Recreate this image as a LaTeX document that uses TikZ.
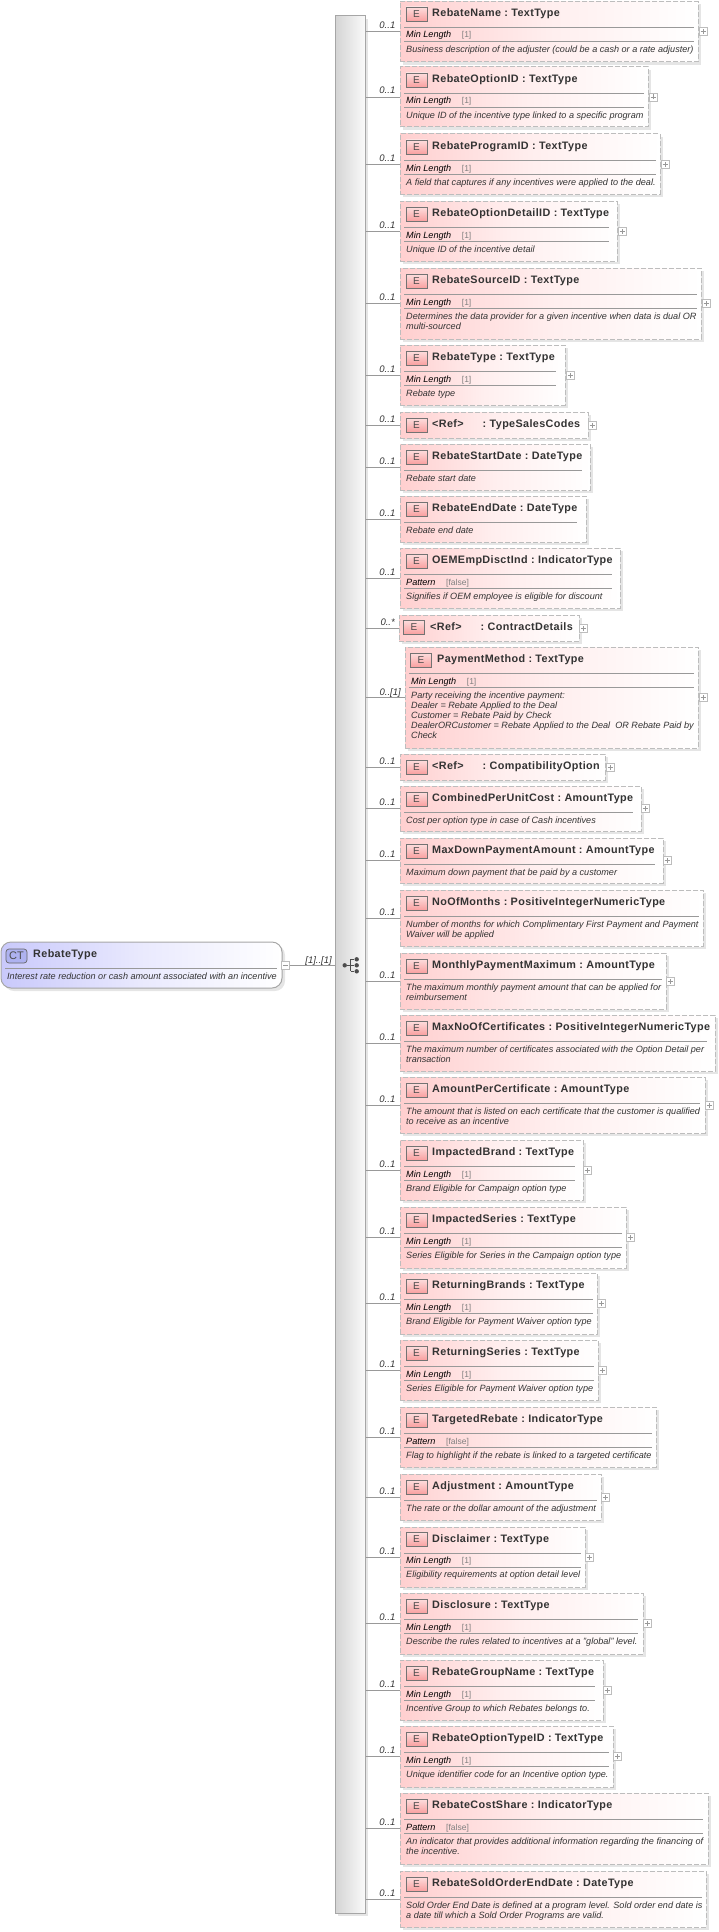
\documentclass[tikz,border=0pt]{standalone}
\usepackage{fontspec}
\setmainfont{Liberation Sans}
\newfontfamily\titlefont[LetterSpace=3.5]{Liberation Sans Bold}
\usetikzlibrary{shadows}
\definecolor{pinkbg}{HTML}{FFCFCF}
\definecolor{bluebg}{HTML}{C9C9FB}
\definecolor{iconred}{HTML}{F9A0A0}
\definecolor{iconblue}{HTML}{AEB2F0}
\definecolor{edgegray}{HTML}{BDBDBD}
\definecolor{textgray}{HTML}{333333}

\begin{document}
\begin{tikzpicture}[x=1pt,y=-1pt]
    \tikzstyle{elem}=[draw=edgegray,line width=1pt,dash pattern=on 5pt off 2pt,inner sep=0pt,left color=pinkbg,right color=white,middle color=pinkbg!35,drop shadow={shadow xshift=3pt,shadow yshift=-3pt,fill=black!10,opacity=1}]
    \tikzstyle{icon}=[draw=black!55,line width=0.7pt,top color=iconred!35,bottom color=iconred,text=black!70,minimum width=21pt,minimum height=14pt,inner sep=0pt,font=\fontsize{10}{10}\selectfont]
    \tikzstyle{title}=[anchor=base west,inner sep=0pt,text=textgray,font=\fontsize{10.8}{12}\titlefont]
    \tikzstyle{facet}=[anchor=base west,inner sep=0pt,text=black,font=\fontsize{9.1}{10}\selectfont\itshape]
    \tikzstyle{facetval}=[anchor=base west,inner sep=0pt,text=black!50,font=\fontsize{8.5}{10}\selectfont]
    \tikzstyle{desc}=[anchor=north west,inner sep=0pt,align=left,text height=7pt,text=textgray,font=\fontsize{9.1}{10}\selectfont\itshape]
    \tikzstyle{mult}=[anchor=base east,inner sep=0pt,text=textgray,font=\fontsize{9.5}{10}\selectfont\itshape]
    \tikzstyle{plus}=[draw=edgegray,fill=white,minimum size=8pt,inner sep=0pt,path picture={\draw[black!40,line width=0.5pt] ([xshift=-2.5pt]path picture bounding box.center) -- ([xshift=2.5pt]path picture bounding box.center); \draw[black!40,line width=0.5pt] ([yshift=-2.5pt]path picture bounding box.center) -- ([yshift=2.5pt]path picture bounding box.center);}]
    \tikzstyle{link}=[draw=black!40,line width=0.8pt]
    \tikzstyle{rule}=[draw=black!40,line width=0.8pt]
    \tikzstyle{dot}=[circle,fill=black!70,inner sep=0pt,minimum size=4.4pt]

    \useasboundingbox (0,0) rectangle (719,1932);

    % complex type on the left
    \node (ct) at (141.5,965) [draw=black!35,line width=1pt,rounded corners=10pt,left color=bluebg,right color=white,middle color=bluebg!40,minimum width=281pt,minimum height=46pt,inner sep=0pt,drop shadow={shadow xshift=3pt,shadow yshift=-3pt,fill=black!10,opacity=1}] {};
    \node (cticon) at (16.5,956) [draw=black!60,line width=0.7pt,rounded corners=3pt,fill=iconblue,text=black!70,minimum width=21pt,minimum height=14pt,inner sep=0pt,font=\fontsize{11}{11}\selectfont] {CT};
    \node (cttitle) at (33,957) [title] {RebateType};
    \draw [rule] (5,968) -- (277,968);
    \node (ctdesc) at (7,972) [desc] {Interest rate reduction or cash amount associated with an incentive};
    \node (ctminus) at (285.5,965.5) [draw=edgegray,fill=white,minimum size=8pt,inner sep=0pt] {};
    \draw [black!40,line width=0.5pt] ([xshift=-2.5pt]ctminus.center) -- ([xshift=2.5pt]ctminus.center);
    \node (ctmult) at (332,963) [mult] {[1]..[1]};

    % sequence bar
    \node (bar) at (350,964.5) [draw=black!35,line width=1pt,left color=black!17,right color=black!2,minimum width=30pt,minimum height=1897pt,inner sep=0pt,drop shadow={shadow xshift=3pt,shadow yshift=-3pt,fill=black!10,opacity=1}] {};
    \draw [link] (ctminus.east) -- (bar.west |- ctminus);
    \node (s0) at (344.7,965.3) [dot] {};
    \node (s1) at (356.7,959.3) [dot] {};
    \node (s2) at (356.7,965.3) [dot] {};
    \node (s3) at (356.7,971.3) [dot] {};
    \coordinate (sj) at (350.7,965.3);
    \draw [black!70,line width=0.8pt] (s0) -- (s2);
    \draw [black!70,line width=0.8pt] (sj |- s1) -- (sj |- s3);
    \draw [black!70,line width=0.8pt] (sj |- s1) -- (s1);
    \draw [black!70,line width=0.8pt] (sj |- s3) -- (s3);

    % elements
    \node (e1) at (549,31.5) [elem,minimum width=298pt,minimum height=60.4pt] {};
    \node (i1) at (416.5,14) [icon] {E};
    \node (t1) at (432,16.7) [title] {RebateName\ :\ TextType};
    \draw [rule] (404,27.5) -- (694,27.5) (404,41.5) -- (694,41.5);
    \node (f1) at (406,38) [facet] {Min Length};
    \node (v1) at (461.7,38) [facetval] {[1]};
    \node (d1) at (406,45) [desc] {Business description of the adjuster (could be a cash or a rate adjuster)};
    \node (m1) at (395.5,28.5) [mult] {0..1};
    \node (p1) at (703,31.5) [plus] {};
    \draw [link] (bar.east |- e1.west) -- (e1.west);

    \node (e2) at (524,97) [elem,minimum width=248pt,minimum height=60pt] {};
    \node (i2) at (416.5,80) [icon] {E};
    \node (t2) at (432,82.7) [title] {RebateOptionID\ :\ TextType};
    \draw [rule] (404,93.5) -- (644,93.5) (404,107.5) -- (644,107.5);
    \node (f2) at (406,104) [facet] {Min Length};
    \node (v2) at (461.7,104) [facetval] {[1]};
    \node (d2) at (406,111) [desc] {Unique ID of the incentive type linked to a specific program};
    \node (m2) at (395.5,94) [mult] {0..1};
    \node (p2) at (653,97) [plus] {};
    \draw [link] (bar.east |- e2.west) -- (e2.west);

    \node (e3) at (530,164) [elem,minimum width=260pt,minimum height=60pt] {};
    \node (i3) at (416.5,147) [icon] {E};
    \node (t3) at (432,149.7) [title] {RebateProgramID\ :\ TextType};
    \draw [rule] (404,160.5) -- (656,160.5) (404,174.5) -- (656,174.5);
    \node (f3) at (406,171) [facet] {Min Length};
    \node (v3) at (461.7,171) [facetval] {[1]};
    \node (d3) at (406,178) [desc] {A field that captures if any incentives were applied to the deal.};
    \node (m3) at (395.5,161) [mult] {0..1};
    \node (p3) at (665,164) [plus] {};
    \draw [link] (bar.east |- e3.west) -- (e3.west);

    \node (e4) at (508.5,231) [elem,minimum width=217pt,minimum height=60pt] {};
    \node (i4) at (416.5,214) [icon] {E};
    \node (t4) at (432,216.7) [title] {RebateOptionDetailID\ :\ TextType};
    \draw [rule] (404,227.5) -- (609,227.5) (404,241.5) -- (609,241.5);
    \node (f4) at (406,238) [facet] {Min Length};
    \node (v4) at (461.7,238) [facetval] {[1]};
    \node (d4) at (406,245) [desc] {Unique ID of the incentive detail};
    \node (m4) at (395.5,228) [mult] {0..1};
    \node (p4) at (622,231) [plus] {};
    \draw [link] (bar.east |- e4.west) -- (e4.west);

    \node (e5) at (550.5,303.5) [elem,minimum width=301pt,minimum height=71pt] {};
    \node (i5) at (416.5,281) [icon] {E};
    \node (t5) at (432,283.7) [title] {RebateSourceID\ :\ TextType};
    \draw [rule] (404,294.5) -- (697,294.5) (404,308.5) -- (697,308.5);
    \node (f5) at (406,305) [facet] {Min Length};
    \node (v5) at (461.7,305) [facetval] {[1]};
    \node (d5) at (406,322) [desc] {Determines the data provider for a given incentive when data is dual OR\\multi-sourced};
    \node (m5) at (395.5,300.5) [mult] {0..1};
    \node (p5) at (706,303.5) [plus] {};
    \draw [link] (bar.east |- e5.west) -- (e5.west);

    \node (e6) at (482.5,375) [elem,minimum width=165pt,minimum height=60pt] {};
    \node (i6) at (416.5,358) [icon] {E};
    \node (t6) at (432,360.7) [title] {RebateType\ :\ TextType};
    \draw [rule] (404,371.5) -- (556,371.5) (404,385.5) -- (556,385.5);
    \node (f6) at (406,382) [facet] {Min Length};
    \node (v6) at (461.7,382) [facetval] {[1]};
    \node (d6) at (406,389) [desc] {Rebate type};
    \node (m6) at (395.5,372) [mult] {0..1};
    \node (p6) at (570,375) [plus] {};
    \draw [link] (bar.east |- e6.west) -- (e6.west);

    \node (e7) at (494,425) [elem,minimum width=188pt,minimum height=26pt] {};
    \node (i7) at (416.5,425) [icon] {E};
    \node (t7) at (432,427) [title] {<Ref>\hspace{19pt}:\ TypeSalesCodes};
    \node (m7) at (395.5,422) [mult] {0..1};
    \node (p7) at (592,425) [plus] {};
    \draw [link] (bar.east |- e7.west) -- (e7.west);

    \node (e8) at (495,467) [elem,minimum width=190pt,minimum height=46pt] {};
    \node (i8) at (416.5,457) [icon] {E};
    \node (t8) at (432,459.7) [title] {RebateStartDate\ :\ DateType};
    \draw [rule] (404,470.5) -- (582,470.5);
    \node (d8) at (406,474) [desc] {Rebate start date};
    \node (m8) at (395.5,464) [mult] {0..1};
    \draw [link] (bar.east |- e8.west) -- (e8.west);

    \node (e9) at (493,519) [elem,minimum width=186pt,minimum height=46pt] {};
    \node (i9) at (416.5,509) [icon] {E};
    \node (t9) at (432,511.7) [title] {RebateEndDate\ :\ DateType};
    \draw [rule] (404,522.5) -- (577,522.5);
    \node (d9) at (406,526) [desc] {Rebate end date};
    \node (m9) at (395.5,516) [mult] {0..1};
    \draw [link] (bar.east |- e9.west) -- (e9.west);

    \node (e10) at (510,578) [elem,minimum width=220pt,minimum height=60pt] {};
    \node (i10) at (416.5,561) [icon] {E};
    \node (t10) at (432,563.7) [title] {OEMEmpDisctInd\ :\ IndicatorType};
    \draw [rule] (404,574.5) -- (612,574.5) (404,588.5) -- (612,588.5);
    \node (f10) at (406,585) [facet] {Pattern};
    \node (v10) at (446,585) [facetval] {[false]};
    \node (d10) at (406,592) [desc] {Signifies if OEM employee is eligible for discount};
    \node (m10) at (395.5,575) [mult] {0..1};
    \draw [link] (bar.east |- e10.west) -- (e10.west);

    \node (e11) at (489,628) [elem,minimum width=180pt,minimum height=26pt] {};
    \node (i11) at (414,627) [icon] {E};
    \node (t11) at (430,630) [title] {<Ref>\hspace{19pt}:\ ContractDetails};
    \node (m11) at (395,625) [mult] {0..*};
    \node (p11) at (583.5,628) [plus] {};
    \draw [link] (bar.east |- e11.west) -- (e11.west);

    \node (e12) at (551.5,697.5) [elem,minimum width=293pt,minimum height=101pt] {};
    \node (i12) at (421,660) [icon] {E};
    \node (t12) at (437,662) [title] {PaymentMethod\ :\ TextType};
    \draw [rule] (409,673) -- (694,673) (409,687.3) -- (694,687.3);
    \node (f12) at (411,684) [facet] {Min Length};
    \node (v12) at (466.7,684) [facetval] {[1]};
    \node (d12) at (411,731.3) [desc] {Party receiving the incentive payment:\\Dealer = Rebate Applied to the Deal\\Customer = Rebate Paid by Check\\DealerORCustomer = Rebate Applied to the Deal\ \ OR Rebate Paid by\\Check};
    \node (m12) at (401,695) [mult] {0..[1]};
    \node (p12) at (703,697.5) [plus] {};
    \draw [link] (bar.east |- e12.west) -- (e12.west);

    \node (e13) at (502.5,767) [elem,minimum width=205pt,minimum height=26pt] {};
    \node (i13) at (416.5,767) [icon] {E};
    \node (t13) at (432,769) [title] {<Ref>\hspace{19pt}:\ CompatibilityOption};
    \node (m13) at (395.5,764) [mult] {0..1};
    \node (p13) at (610,767) [plus] {};
    \draw [link] (bar.east |- e13.west) -- (e13.west);

    \node (e14) at (520.5,808.5) [elem,minimum width=241pt,minimum height=45pt] {};
    \node (i14) at (416.5,799) [icon] {E};
    \node (t14) at (432,801.7) [title] {CombinedPerUnitCost\ :\ AmountType};
    \draw [rule] (404,812.5) -- (633,812.5);
    \node (d14) at (406,816) [desc] {Cost per option type in case of Cash incentives};
    \node (m14) at (395.5,805.5) [mult] {0..1};
    \node (p14) at (645,808.5) [plus] {};
    \draw [link] (bar.east |- e14.west) -- (e14.west);

    \node (e15) at (531.5,860.5) [elem,minimum width=263pt,minimum height=45pt] {};
    \node (i15) at (416.5,851) [icon] {E};
    \node (t15) at (432,853.7) [title] {MaxDownPaymentAmount\ :\ AmountType};
    \draw [rule] (404,864.5) -- (655,864.5);
    \node (d15) at (406,868) [desc] {Maximum down payment that be paid by a customer};
    \node (m15) at (395.5,857.5) [mult] {0..1};
    \node (p15) at (667,860.5) [plus] {};
    \draw [link] (bar.east |- e15.west) -- (e15.west);

    \node (e16) at (551.5,918) [elem,minimum width=303pt,minimum height=56pt] {};
    \node (i16) at (416.5,903) [icon] {E};
    \node (t16) at (432,905.7) [title] {NoOfMonths\ :\ PositiveIntegerNumericType};
    \draw [rule] (404,916.5) -- (699,916.5);
    \node (d16) at (406,930) [desc] {Number of months for which Complimentary First Payment and Payment\\Waiver will be applied};
    \node (m16) at (395.5,915) [mult] {0..1};
    \draw [link] (bar.east |- e16.west) -- (e16.west);

    \node (e17) at (533,981) [elem,minimum width=266pt,minimum height=56pt] {};
    \node (i17) at (416.5,966) [icon] {E};
    \node (t17) at (432,968.7) [title] {MonthlyPaymentMaximum\ :\ AmountType};
    \draw [rule] (404,979.5) -- (662,979.5);
    \node (d17) at (406,993) [desc] {The maximum monthly payment amount that can be applied for\\reimbursement};
    \node (m17) at (395.5,978) [mult] {0..1};
    \node (p17) at (670,981) [plus] {};
    \draw [link] (bar.east |- e17.west) -- (e17.west);

    \node (e18) at (557.5,1043) [elem,minimum width=315pt,minimum height=56pt] {};
    \node (i18) at (416.5,1028) [icon] {E};
    \node (t18) at (432,1030.7) [title] {MaxNoOfCertificates\ :\ PositiveIntegerNumericType};
    \draw [rule] (404,1041.5) -- (707,1041.5);
    \node (d18) at (406,1055) [desc] {The maximum number of certificates associated with the Option Detail per\\transaction};
    \node (m18) at (395.5,1040) [mult] {0..1};
    \draw [link] (bar.east |- e18.west) -- (e18.west);

    \node (e19) at (552.5,1105) [elem,minimum width=305pt,minimum height=56pt] {};
    \node (i19) at (416.5,1090) [icon] {E};
    \node (t19) at (432,1092.7) [title] {AmountPerCertificate\ :\ AmountType};
    \draw [rule] (404,1103.5) -- (700,1103.5);
    \node (d19) at (406,1117) [desc] {The amount that is listed on each certificate that the customer is qualified\\to receive as an incentive};
    \node (m19) at (395.5,1102) [mult] {0..1};
    \node (p19) at (709,1105) [plus] {};
    \draw [link] (bar.east |- e19.west) -- (e19.west);

    \node (e20) at (491.5,1170) [elem,minimum width=183pt,minimum height=60pt] {};
    \node (i20) at (416.5,1153) [icon] {E};
    \node (t20) at (432,1155.7) [title] {ImpactedBrand\ :\ TextType};
    \draw [rule] (404,1166.5) -- (575,1166.5) (404,1180.5) -- (575,1180.5);
    \node (f20) at (406,1177) [facet] {Min Length};
    \node (v20) at (461.7,1177) [facetval] {[1]};
    \node (d20) at (406,1184) [desc] {Brand Eligible for Campaign option type};
    \node (m20) at (395.5,1167) [mult] {0..1};
    \node (p20) at (587,1170) [plus] {};
    \draw [link] (bar.east |- e20.west) -- (e20.west);

    \node (e21) at (513,1237.5) [elem,minimum width=226pt,minimum height=61pt] {};
    \node (i21) at (416.5,1220) [icon] {E};
    \node (t21) at (432,1222.7) [title] {ImpactedSeries\ :\ TextType};
    \draw [rule] (404,1233.5) -- (622,1233.5) (404,1247.5) -- (622,1247.5);
    \node (f21) at (406,1244) [facet] {Min Length};
    \node (v21) at (461.7,1244) [facetval] {[1]};
    \node (d21) at (406,1251) [desc] {Series Eligible for Series in the Campaign option type};
    \node (m21) at (395.5,1234.5) [mult] {0..1};
    \node (p21) at (630,1237.5) [plus] {};
    \draw [link] (bar.east |- e21.west) -- (e21.west);

    \node (e22) at (498.5,1303.5) [elem,minimum width=197pt,minimum height=61pt] {};
    \node (i22) at (416.5,1286) [icon] {E};
    \node (t22) at (432,1288.7) [title] {ReturningBrands\ :\ TextType};
    \draw [rule] (404,1299.5) -- (593,1299.5) (404,1313.5) -- (593,1313.5);
    \node (f22) at (406,1310) [facet] {Min Length};
    \node (v22) at (461.7,1310) [facetval] {[1]};
    \node (d22) at (406,1317) [desc] {Brand Eligible for Payment Waiver option type};
    \node (m22) at (395.5,1300.5) [mult] {0..1};
    \node (p22) at (601,1303.5) [plus] {};
    \draw [link] (bar.east |- e22.west) -- (e22.west);

    \node (e23) at (499,1370) [elem,minimum width=198pt,minimum height=60pt] {};
    \node (i23) at (416.5,1353) [icon] {E};
    \node (t23) at (432,1355.7) [title] {ReturningSeries\ :\ TextType};
    \draw [rule] (404,1366.5) -- (594,1366.5) (404,1380.5) -- (594,1380.5);
    \node (f23) at (406,1377) [facet] {Min Length};
    \node (v23) at (461.7,1377) [facetval] {[1]};
    \node (d23) at (406,1384) [desc] {Series Eligible for Payment Waiver option type};
    \node (m23) at (395.5,1367) [mult] {0..1};
    \node (p23) at (602.5,1370) [plus] {};
    \draw [link] (bar.east |- e23.west) -- (e23.west);

    \node (e24) at (528,1437) [elem,minimum width=256pt,minimum height=60pt] {};
    \node (i24) at (416.5,1420) [icon] {E};
    \node (t24) at (432,1422.7) [title] {TargetedRebate\ :\ IndicatorType};
    \draw [rule] (404,1433.5) -- (652,1433.5) (404,1447.5) -- (652,1447.5);
    \node (f24) at (406,1444) [facet] {Pattern};
    \node (v24) at (446,1444) [facetval] {[false]};
    \node (d24) at (406,1451) [desc] {Flag to highlight if the rebate is linked to a targeted certificate};
    \node (m24) at (395.5,1434) [mult] {0..1};
    \draw [link] (bar.east |- e24.west) -- (e24.west);

    \node (e25) at (500.5,1497) [elem,minimum width=201pt,minimum height=46pt] {};
    \node (i25) at (416.5,1487) [icon] {E};
    \node (t25) at (432,1489.7) [title] {Adjustment\ :\ AmountType};
    \draw [rule] (404,1500.5) -- (597,1500.5);
    \node (d25) at (406,1504) [desc] {The rate or the dollar amount of the adjustment};
    \node (m25) at (395.5,1494) [mult] {0..1};
    \node (p25) at (605,1497) [plus] {};
    \draw [link] (bar.east |- e25.west) -- (e25.west);

    \node (e26) at (492.5,1557) [elem,minimum width=185pt,minimum height=60pt] {};
    \node (i26) at (416.5,1539.5) [icon] {E};
    \node (t26) at (432,1542.2) [title] {Disclaimer\ :\ TextType};
    \draw [rule] (404,1553) -- (581,1553) (404,1567) -- (581,1567);
    \node (f26) at (406,1563.5) [facet] {Min Length};
    \node (v26) at (461.7,1563.5) [facetval] {[1]};
    \node (d26) at (406,1570.5) [desc] {Eligibility requirements at option detail level};
    \node (m26) at (395.5,1554) [mult] {0..1};
    \node (p26) at (589,1557) [plus] {};
    \draw [link] (bar.east |- e26.west) -- (e26.west);

    \node (e27) at (521.5,1623.5) [elem,minimum width=243pt,minimum height=61pt] {};
    \node (i27) at (416.5,1606) [icon] {E};
    \node (t27) at (432,1608.7) [title] {Disclosure\ :\ TextType};
    \draw [rule] (404,1619.5) -- (638,1619.5) (404,1633.5) -- (638,1633.5);
    \node (f27) at (406,1630) [facet] {Min Length};
    \node (v27) at (461.7,1630) [facetval] {[1]};
    \node (d27) at (406,1637) [desc] {Describe the rules related to incentives at a "global" level.};
    \node (m27) at (395.5,1620.5) [mult] {0..1};
    \node (p27) at (647,1623.5) [plus] {};
    \draw [link] (bar.east |- e27.west) -- (e27.west);

    \node (e28) at (501.5,1690) [elem,minimum width=203pt,minimum height=60pt] {};
    \node (i28) at (416.5,1673) [icon] {E};
    \node (t28) at (432,1675.7) [title] {RebateGroupName\ :\ TextType};
    \draw [rule] (404,1686.5) -- (595,1686.5) (404,1700.5) -- (595,1700.5);
    \node (f28) at (406,1697) [facet] {Min Length};
    \node (v28) at (461.7,1697) [facetval] {[1]};
    \node (d28) at (406,1704) [desc] {Incentive Group to which Rebates belongs to.};
    \node (m28) at (395.5,1687) [mult] {0..1};
    \node (p28) at (607,1690) [plus] {};
    \draw [link] (bar.east |- e28.west) -- (e28.west);

    \node (e29) at (506.5,1756.5) [elem,minimum width=213pt,minimum height=61pt] {};
    \node (i29) at (416.5,1739) [icon] {E};
    \node (t29) at (432,1741.7) [title] {RebateOptionTypeID\ :\ TextType};
    \draw [rule] (404,1752.5) -- (609,1752.5) (404,1766.5) -- (609,1766.5);
    \node (f29) at (406,1763) [facet] {Min Length};
    \node (v29) at (461.7,1763) [facetval] {[1]};
    \node (d29) at (406,1770) [desc] {Unique identifier code for an Incentive option type.};
    \node (m29) at (395.5,1753.5) [mult] {0..1};
    \node (p29) at (617.5,1756.5) [plus] {};
    \draw [link] (bar.east |- e29.west) -- (e29.west);

    \node (e30) at (554,1828.5) [elem,minimum width=308pt,minimum height=71pt] {};
    \node (i30) at (416.5,1806) [icon] {E};
    \node (t30) at (432,1808.7) [title] {RebateCostShare\ :\ IndicatorType};
    \draw [rule] (404,1819.5) -- (703,1819.5) (404,1833.5) -- (703,1833.5);
    \node (f30) at (406,1830) [facet] {Pattern};
    \node (v30) at (446,1830) [facetval] {[false]};
    \node (d30) at (406,1847) [desc] {An indicator that provides additional information regarding the financing of\\the incentive.};
    \node (m30) at (395.5,1825.5) [mult] {0..1};
    \draw [link] (bar.east |- e30.west) -- (e30.west);

    \node (e31) at (553,1899) [elem,minimum width=306pt,minimum height=56pt] {};
    \node (i31) at (416.5,1884) [icon] {E};
    \node (t31) at (432,1886.7) [title] {RebateSoldOrderEndDate\ :\ DateType};
    \draw [rule] (404,1897.5) -- (702,1897.5);
    \node (d31) at (406,1911) [desc] {Sold Order End Date is defined at a program level. Sold order end date is\\a date till which a Sold Order Programs are valid.};
    \node (m31) at (395.5,1896) [mult] {0..1};
    \draw [link] (bar.east |- e31.west) -- (e31.west);
\end{tikzpicture}
\end{document}
